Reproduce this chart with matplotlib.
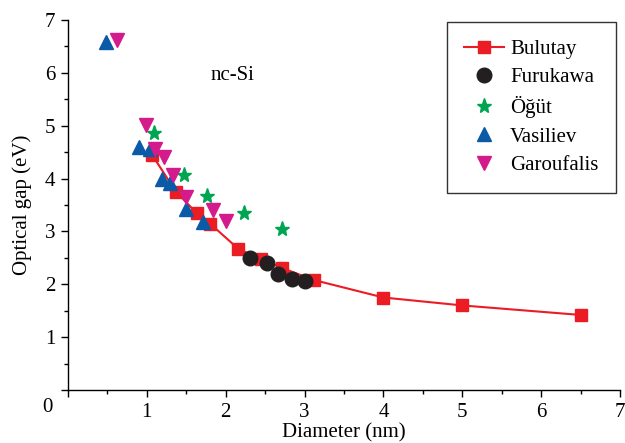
import numpy as np
import matplotlib
matplotlib.use('Agg')
import matplotlib.pyplot as plt
from matplotlib.ticker import MultipleLocator

plt.rcParams['font.family'] = ['Liberation Serif', 'DejaVu Serif']

# Bulutay (line + squares)
bul_d = [1.07, 1.37, 1.63, 1.80, 2.16, 2.45, 2.71, 3.12, 4.0, 5.0, 6.5]
bul_e = [4.44, 3.75, 3.35, 3.15, 2.67, 2.47, 2.31, 2.08, 1.75, 1.60, 1.42]

# Furukawa
fur_d = [2.31, 2.52, 2.66, 2.84, 3.01]
fur_e = [2.49, 2.41, 2.19, 2.10, 2.06]

# Ogut
ogu_d = [1.09, 1.47, 1.76, 2.23, 2.72]
ogu_e = [4.87, 4.06, 3.67, 3.34, 3.04]

# Vasiliev
vas_d = [0.48, 0.90, 1.04, 1.19, 1.29, 1.50, 1.71]
vas_e = [6.58, 4.60, 4.55, 3.99, 3.91, 3.43, 3.18]

# Garoufalis
gar_d = [0.62, 0.99, 1.10, 1.22, 1.33, 1.50, 1.84, 2.00]
gar_e = [6.62, 5.01, 4.55, 4.41, 4.06, 3.65, 3.40, 3.19]

fs = 15

fig = plt.figure(figsize=(6.25, 4.43), dpi=100)
ax = fig.add_axes([0.1088, 0.1196, 0.8832, 0.8353])

ax.plot(bul_d, bul_e, color='#ec1c24', lw=1.5, marker='s', ms=9,
        mec='#ec1c24', label='Bulutay', zorder=2)
ax.plot(fur_d, fur_e, ls='none', marker='o', ms=10.5, color='#231f20',
        label='Furukawa', zorder=3)
ax.plot(ogu_d, ogu_e, ls='none', marker='*', ms=11, color='#00a551',
        label='Öğüt', zorder=3)
ax.plot(vas_d, vas_e, ls='none', marker='^', ms=10.5, color='#0b5aa8',
        label='Vasiliev', zorder=3)
ax.plot(gar_d, gar_e, ls='none', marker='v', ms=10.5, color='#d41b8c',
        label='Garoufalis', zorder=3)

ax.set_xlim(0, 7)
ax.set_ylim(0, 7)
ax.xaxis.set_minor_locator(MultipleLocator(0.5))
ax.yaxis.set_minor_locator(MultipleLocator(0.5))
ax.set_xticks(range(0, 8))
ax.set_xticklabels([''] + [str(i) for i in range(1, 8)])
ax.set_yticks(range(0, 8))
ax.set_yticklabels([''] + [str(i) for i in range(1, 8)])
ax.tick_params(which='major', direction='out', length=5, width=1,
               labelsize=fs, pad=4)
ax.tick_params(which='minor', direction='out', length=3, width=1)

ax.spines['top'].set_visible(False)
ax.spines['right'].set_visible(False)
for s in ['left', 'bottom']:
    ax.spines[s].set_linewidth(1)

ax.text(-0.038, -0.048, '0', transform=ax.transAxes, fontsize=fs,
        ha='center', va='center')
ax.text(2.08, 5.95, 'nc-Si', fontsize=fs, ha='center', va='center')

ax.set_xlabel('Diameter (nm)', fontsize=fs, labelpad=1)
ax.set_ylabel('Optical gap (eV)', fontsize=fs, labelpad=9)

leg = ax.legend(loc='upper right', bbox_to_anchor=(0.993, 0.995), fontsize=fs,
                frameon=True, fancybox=False, edgecolor='black',
                borderaxespad=0, labelspacing=0.42, handlelength=1.9,
                handletextpad=0.3, borderpad=0.85)
leg.get_frame().set_linewidth(1)

fig.savefig('out.png', dpi=100)
